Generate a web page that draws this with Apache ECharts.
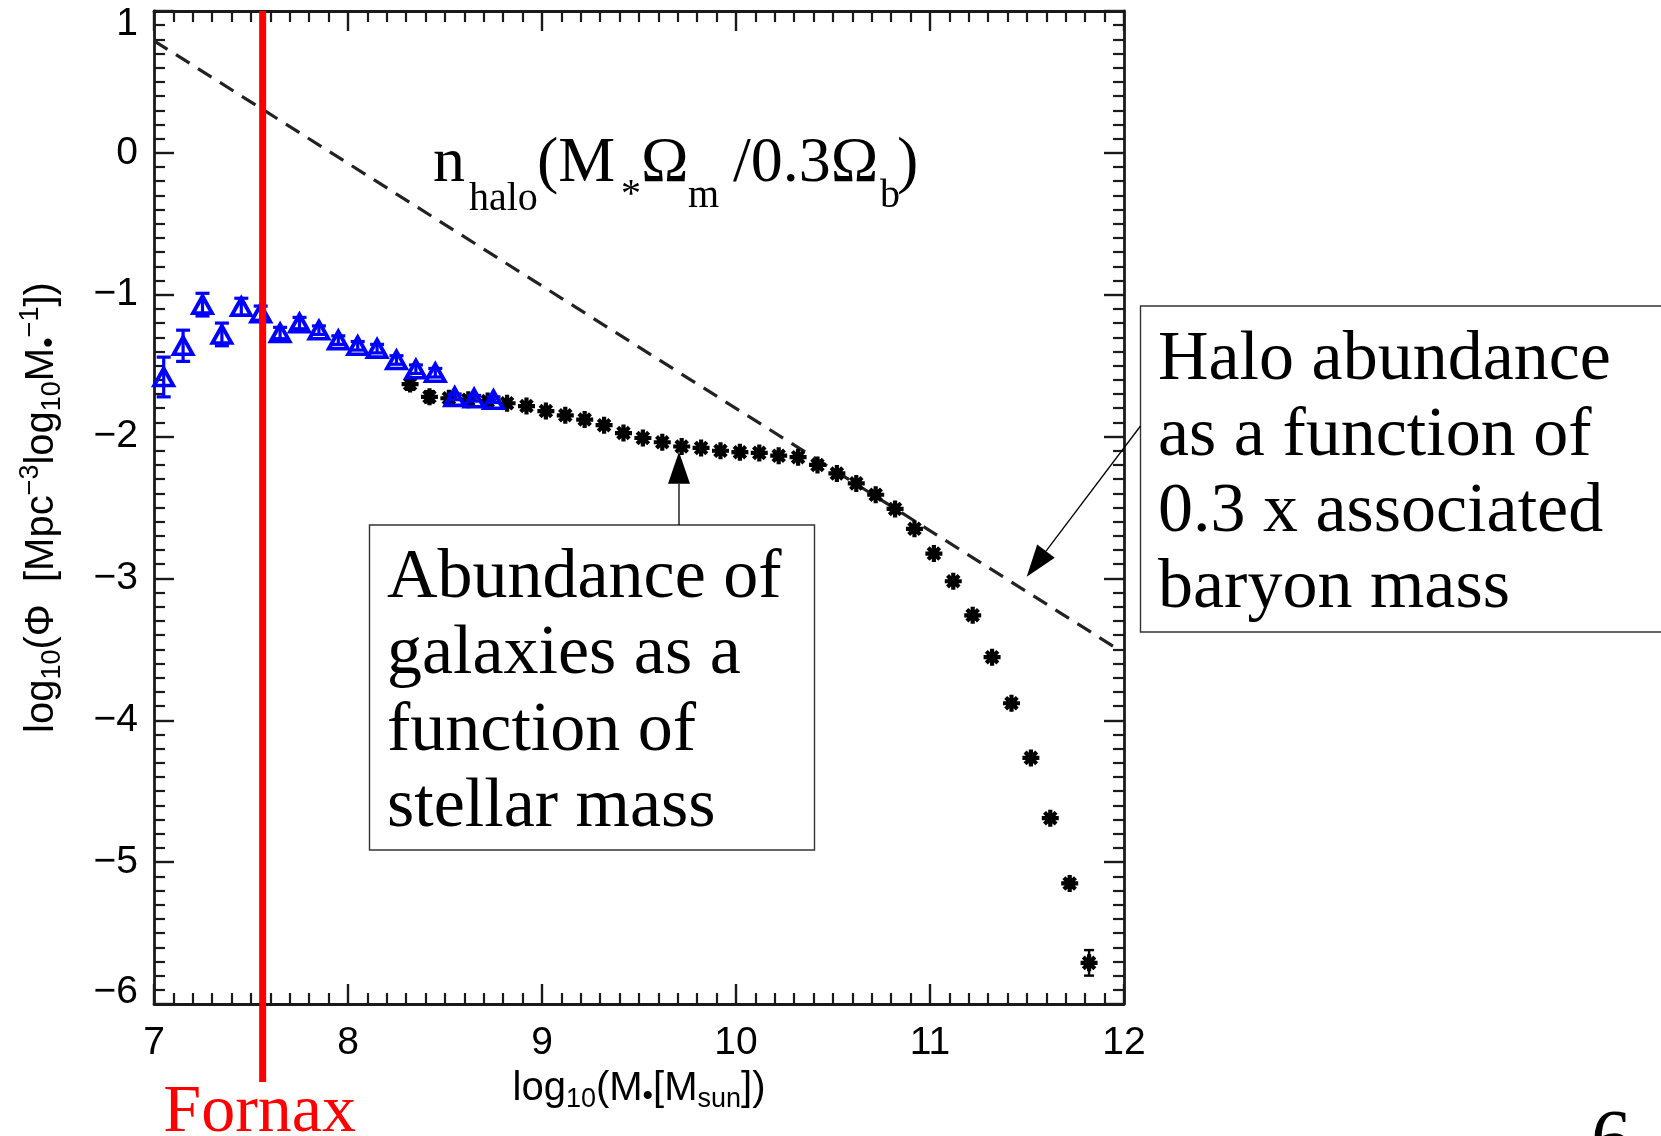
<!DOCTYPE html>
<html><head><meta charset="utf-8">
<script src="https://cdn.jsdelivr.net/npm/echarts@6/dist/echarts.min.js"></script>
<style>html,body{margin:0;padding:0;background:#fff}#c{width:1661px;height:1136px}</style>
</head><body><div id="c"></div>
<script>
// ---- data ----
const xTicks = [7, 8, 9, 10, 11, 12];
const xTickLabels = ['7', '8', '9', '10', '11', '12'];
const yTicks = [-6, -5, -4, -3, -2, -1, 0, 1];
const yTickLabels = ['\u22126', '\u22125', '\u22124', '\u22123', '\u22122', '\u22121', '0', '1'];

const blueX = [7.05, 7.15, 7.25, 7.35, 7.45, 7.55, 7.65, 7.75, 7.85, 7.95, 8.05, 8.15, 8.25, 8.35, 8.45, 8.55, 8.65, 8.75];
const blueY = [-1.58, -1.36, -1.07, -1.28, -1.085, -1.13, -1.27, -1.20, -1.25, -1.32, -1.36, -1.38, -1.46, -1.525, -1.55, -1.72, -1.73, -1.74];
const blueErr = [0.14, 0.11, 0.08, 0.08, 0.06, 0.05, 0.04, 0.04, 0.03, 0.03, 0.03, 0.03, 0.03, 0.03, 0.03, 0.02, 0.02, 0.02];

const blackX = [8.32, 8.42, 8.52, 8.62, 8.72, 8.82, 8.92, 9.02, 9.12, 9.22, 9.32, 9.42, 9.52, 9.62, 9.72, 9.82, 9.92, 10.02, 10.12, 10.22, 10.32, 10.42, 10.52, 10.62, 10.72, 10.82, 10.92, 11.02, 11.12, 11.22, 11.32, 11.42, 11.52, 11.62, 11.72, 11.82];
const blackY = [-1.63, -1.72, -1.73, -1.74, -1.75, -1.765, -1.785, -1.82, -1.85, -1.88, -1.92, -1.975, -2.01, -2.04, -2.07, -2.08, -2.10, -2.11, -2.115, -2.135, -2.145, -2.20, -2.26, -2.33, -2.41, -2.51, -2.65, -2.825, -3.02, -3.26, -3.555, -3.88, -4.265, -4.69, -5.15, -5.71];
const blackErr = [0.04, 0.04, 0.02, 0.02, 0.02, 0.02, 0.02, 0.02, 0.02, 0.02, 0.02, 0.02, 0.02, 0.02, 0.02, 0.02, 0.02, 0.02, 0.02, 0.02, 0.02, 0.02, 0.02, 0.02, 0.02, 0.02, 0.02, 0.02, 0.02, 0.02, 0.02, 0.02, 0.02, 0.02, 0.03, 0.09];

const haloX = [7.0, 9.5, 11.97];
const haloY = [0.79, -1.37, -3.50];

const fornaxX = 7.56;
const fornaxYTop = 1;
const fornaxYBottom = -6.55;
const fornaxLabel = 'Fornax';

const box1Lines = ['Abundance of', 'galaxies as a', 'function of', 'stellar mass'];
const box2Lines = ['Halo abundance', 'as a function of', '0.3 x associated', 'baryon mass'];
const pageNumber = '6';

// ---- styling ----
const AX = '#1a1a1a';
const SANS = '"Liberation Sans", Arial, sans-serif';
const SERIF = '"Liberation Serif", "Times New Roman", serif';
const K = 0.28; // middle-to-baseline factor

function serifText(text, x, baseline, size, color, align) {
  return {
    type: 'text', x: x, y: baseline - K * size, z: 50,
    style: {
      text: text, font: size + 'px ' + SERIF, fill: color || '#000',
      align: align || 'left', textAlign: align || 'left',
      verticalAlign: 'middle', textVerticalAlign: 'middle'
    }
  };
}
function arrow(tail, tip, len, half) {
  const dx = tail[0] - tip[0], dy = tail[1] - tip[1];
  const L = Math.sqrt(dx * dx + dy * dy);
  const ux = dx / L, uy = dy / L;
  const bx = tip[0] + ux * len, by = tip[1] + uy * len;
  const px = -uy * half, py = ux * half;
  return [
    { type: 'line', z: 50, shape: { x1: tail[0], y1: tail[1], x2: bx, y2: by }, style: { stroke: '#000', lineWidth: 1.3 } },
    { type: 'polygon', z: 50, shape: { points: [[tip[0], tip[1]], [bx + px, by + py], [bx - px, by - py]] }, style: { fill: '#000' } }
  ];
}

function errRender(color, cap, lw) {
  return function (params, api) {
    const x = api.value(0);
    const p1 = api.coord([x, api.value(1)]);
    const p2 = api.coord([x, api.value(2)]);
    const st = { stroke: color, lineWidth: lw };
    return {
      type: 'group', children: [
        { type: 'line', shape: { x1: p1[0], y1: p1[1], x2: p2[0], y2: p2[1] }, style: st },
        { type: 'line', shape: { x1: p1[0] - cap, y1: p1[1], x2: p1[0] + cap, y2: p1[1] }, style: st },
        { type: 'line', shape: { x1: p2[0] - cap, y1: p2[1], x2: p2[0] + cap, y2: p2[1] }, style: st }
      ]
    };
  };
}

const tickLabelStyle = { fontSize: 39, fontFamily: SANS, color: '#000' };

function xAxisDef(pos) {
  return {
    type: 'value', min: 7, max: 12, interval: 1, position: pos,
    axisLine: { show: true, onZero: false, lineStyle: { color: AX, width: 2.8 } },
    axisTick: { show: true, inside: true, length: 20, lineStyle: { color: AX, width: 2.4 } },
    minorTick: { show: true, splitNumber: 10, length: 11, lineStyle: { color: AX, width: 2.2 } },
    splitLine: { show: false }, minorSplitLine: { show: false },
    axisLabel: pos === 'bottom' ? Object.assign({
      show: true, margin: 20, showMinLabel: true, showMaxLabel: true,
      formatter: function (v) { const i = xTicks.indexOf(v); return i >= 0 ? xTickLabels[i] : ''; }
    }, tickLabelStyle) : { show: false }
  };
}
function yAxisDef(pos) {
  return {
    type: 'value', min: -6, max: 1, interval: 1, position: pos,
    axisLine: { show: true, onZero: false, lineStyle: { color: AX, width: 2.8 } },
    axisTick: { show: true, inside: true, length: 20, lineStyle: { color: AX, width: 2.4 } },
    minorTick: { show: true, splitNumber: 10, length: 11, lineStyle: { color: AX, width: 2.2 } },
    splitLine: { show: false }, minorSplitLine: { show: false },
    axisLabel: pos === 'left' ? Object.assign({
      show: true, margin: 16, showMinLabel: true, showMaxLabel: true,
      formatter: function (v) {
        const i = yTicks.indexOf(v); const t = i >= 0 ? yTickLabels[i] : '';
        if (v === 1) return '{dn|' + t + '}';
        if (v === -6) return '{up|' + t + '}';
        return t;
      },
      rich: {
        dn: Object.assign({ padding: [26, 0, 0, 0] }, tickLabelStyle),
        up: Object.assign({ padding: [0, 0, 24, 0] }, tickLabelStyle)
      }
    }, tickLabelStyle) : { show: false }
  };
}

const xA = xAxisDef('bottom');
xA.name = 'log{sub|10}(M{dot|\u2022}[M{sub|sun}])';
xA.nameLocation = 'middle';
xA.nameGap = 60;
xA.nameTextStyle = {
  fontSize: 40, fontFamily: SANS, color: '#000',
  rich: {
    sub: { fontSize: 27, fontFamily: SANS, color: '#000', padding: [22, 0, 0, 0] },
    dot: { fontSize: 30, fontFamily: SANS, color: '#000', padding: [16, 0, 0, 0] }
  }
};
const yA = yAxisDef('left');
yA.name = 'log{sub|10}(\u03A6  [Mpc{sup|\u22123}log{sub|10}M{dot|\u2022}{sup|\u22121}])';
yA.nameLocation = 'middle';
yA.nameRotate = 90;
yA.nameGap = 88;
yA.nameTextStyle = {
  fontSize: 40, fontFamily: SANS, color: '#000',
  rich: {
    sub: { fontSize: 27, fontFamily: SANS, color: '#000', padding: [22, 0, 0, 0] },
    sup: { fontSize: 27, fontFamily: SANS, color: '#000', padding: [0, 0, 22, 0] },
    dot: { fontSize: 30, fontFamily: SANS, color: '#000', padding: [16, 0, 0, 0] }
  }
};

// annotation graphics
const graphics = [];
// formula label n_halo(M*Ωm /0.3Ωb)
graphics.push(serifText('n', 433, 182, 64));
graphics.push(serifText('halo', 469, 211, 40));
graphics.push(serifText('(M', 537, 182, 64));
graphics.push(serifText('*', 621, 207, 40));
graphics.push(serifText('\u03A9', 641, 182, 64));
graphics.push(serifText('m', 688, 208, 40));
graphics.push(serifText('/0.3\u03A9', 733, 182, 64));
graphics.push(serifText('b', 880, 208, 40));
graphics.push(serifText(')', 897, 182, 64));

// box 1
graphics.push({ type: 'rect', z: 40, shape: { x: 369.5, y: 525, width: 445, height: 325 }, style: { fill: '#fff', stroke: '#333', lineWidth: 1.4 } });
box1Lines.forEach(function (t, i) { graphics.push(serifText(t, 387, 598 + 76.5 * i, 70)); });
arrow([679, 525], [679, 451.7], 32, 11).forEach(function (g) { graphics.push(g); });

// box 2
graphics.push({ type: 'rect', z: 40, shape: { x: 1140.5, y: 306, width: 560, height: 326 }, style: { fill: '#fff', stroke: '#333', lineWidth: 1.4 } });
box2Lines.forEach(function (t, i) { graphics.push(serifText(t, 1158, 380 + 76 * i, 70)); });
arrow([1140.5, 426], [1026.7, 576.7], 32, 11).forEach(function (g) { graphics.push(g); });

// page number (cut at bottom)
graphics.push(serifText(pageNumber, 1611, 1166, 80, '#000', 'center'));

const option = {
  backgroundColor: '#fff',
  animation: false,
  grid: { left: 154, right: 537, top: 11, bottom: 132, containLabel: false },
  xAxis: [xA, xAxisDef('top')],
  yAxis: [yA, yAxisDef('right')],
  graphic: graphics,
  series: [
    {
      name: 'halo', type: 'line', xAxisIndex: 0, yAxisIndex: 0, z: 2,
      data: haloX.map(function (x, i) { return [x, haloY[i]]; }),
      symbol: 'none', lineStyle: { color: '#222', width: 3.2, type: [16, 10] }
    },
    {
      name: 'blackErr', type: 'custom', z: 3, coordinateSystem: 'cartesian2d',
      data: blackX.map(function (x, i) { return [x, blackY[i] + blackErr[i], blackY[i] - blackErr[i]]; }),
      encode: { x: 0, y: [1, 2] },
      renderItem: errRender('#000', 5, 2.4)
    },
    {
      name: 'black', type: 'scatter', z: 4,
      data: blackX.map(function (x, i) { return [x, blackY[i]]; }),
      symbol: 'path://M0,5L10,5M5,0L5,10M1.6,1.6L8.4,8.4M8.4,1.6L1.6,8.4',
      symbolSize: 17,
      itemStyle: { color: '#000', borderColor: '#000', borderWidth: 4.2, opacity: 1 }
    },
    {
      name: 'blueErr', type: 'custom', z: 5, coordinateSystem: 'cartesian2d',
      data: blueX.map(function (x, i) { return [x, blueY[i] + blueErr[i], blueY[i] - blueErr[i]]; }),
      encode: { x: 0, y: [1, 2] },
      renderItem: errRender('#0000ff', 7, 3.2)
    },
    {
      name: 'blue', type: 'scatter', z: 6,
      data: blueX.map(function (x, i) { return [x, blueY[i]]; }),
      symbol: 'triangle', symbolSize: [19, 17],
      itemStyle: { color: 'rgba(255,255,255,0)', borderColor: '#0000ff', borderWidth: 3.8, opacity: 1 }
    },
    {
      name: 'fornax', type: 'custom', z: 20, clip: false, coordinateSystem: 'cartesian2d',
      data: [[fornaxX, fornaxYTop, fornaxYBottom]],
      encode: { x: 0, y: [1, 2] },
      renderItem: function (params, api) {
        const x = api.value(0);
        const p1 = api.coord([x, api.value(1)]);
        const p2 = api.coord([x, api.value(2)]);
        return {
          type: 'group', children: [
            { type: 'line', shape: { x1: p1[0], y1: p1[1], x2: p2[0], y2: p2[1] }, style: { stroke: '#ff0000', lineWidth: 7 } },
            { type: 'text', x: p1[0] - 3, y: p2[1] + 50 - K * 68,
              style: { text: fornaxLabel, font: '68px ' + SERIF, fill: '#ff0000', align: 'center', textAlign: 'center', verticalAlign: 'middle', textVerticalAlign: 'middle' } }
          ]
        };
      }
    }
  ]
};

const chart = echarts.init(document.getElementById('c'), null, { renderer: 'canvas', width: 1661, height: 1136 });
chart.setOption(option);
</script>
</body></html>
